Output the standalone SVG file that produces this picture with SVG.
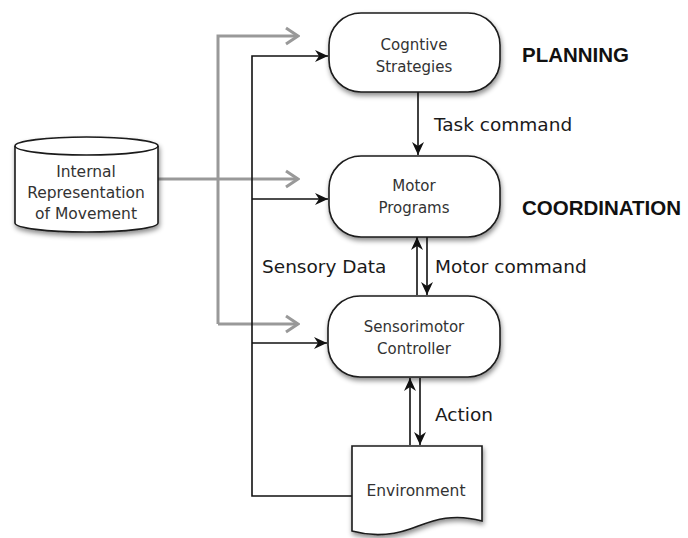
<svg xmlns="http://www.w3.org/2000/svg" width="688" height="538" viewBox="0 0 688 538">
<style>
.node{fill:#fff;stroke:#1a1a1a;stroke-width:1.6;filter:url(#sh)}
.t{font-family:"DejaVu Sans",sans-serif;font-size:15px;fill:#333;text-anchor:middle}
.lbl{font-family:"DejaVu Sans",sans-serif;font-size:18.5px;fill:#1a1a1a}
.hd{font-family:"Liberation Sans",Arial,sans-serif;font-size:20.5px;font-weight:bold;fill:#111}
.bk{fill:none;stroke:#111;stroke-width:1.6}
.gr{fill:none;stroke:#999;stroke-width:3}
</style>
<defs>
<filter id="sh" x="-20%" y="-20%" width="140%" height="150%">
<feDropShadow dx="1" dy="3" stdDeviation="2.5" flood-color="#000" flood-opacity="0.45"/>
</filter>
<marker id="ab" markerWidth="14" markerHeight="12" refX="13" refY="6" orient="auto" markerUnits="userSpaceOnUse">
<path d="M0,0 L13,6 L0,12 L4,6 Z" fill="#111"/>
</marker>
<marker id="ag" markerWidth="16" markerHeight="20" refX="14" refY="10" orient="auto" markerUnits="userSpaceOnUse">
<path d="M2,2 L14,10 L2,18" fill="none" stroke="#999" stroke-width="3"/>
</marker>
</defs>
<rect width="688" height="538" fill="#fff"/>
<g id="connectors">
<path class="gr" d="M218,324 V36 H298" marker-end="url(#ag)"/>
<path class="gr" d="M158,179 H298" marker-end="url(#ag)"/>
<path class="gr" d="M218,324 H298" marker-end="url(#ag)"/>
<path class="bk" d="M352,496 H252 V56 H328" marker-end="url(#ab)"/>
<path class="bk" d="M252,199 H328" marker-end="url(#ab)"/>
<path class="bk" d="M252,343 H327" marker-end="url(#ab)"/>
<path class="bk" d="M418,92 V155" marker-end="url(#ab)"/>
<path class="bk" d="M417,295 V237" marker-end="url(#ab)"/>
<path class="bk" d="M427,237 V295" marker-end="url(#ab)"/>
<path class="bk" d="M410,445 V378" marker-end="url(#ab)"/>
<path class="bk" d="M420,378 V445" marker-end="url(#ab)"/>
</g>
<g id="cognitive">
<rect class="node" x="329" y="13" width="171" height="79" rx="32"/>
<text class="t" x="414" y="50">Cogntive</text>
<text class="t" x="414" y="72">Strategies</text>
</g>
<g id="motor">
<rect class="node" x="329" y="156" width="171" height="81" rx="32"/>
<text class="t" x="414" y="191">Motor</text>
<text class="t" x="414" y="213">Programs</text>
</g>
<g id="sensorimotor">
<rect class="node" x="328" y="296" width="172" height="81" rx="32"/>
<text class="t" x="414" y="332">Sensorimotor</text>
<text class="t" x="414" y="354">Controller</text>
</g>
<g id="internal">
<path class="node" d="M15,146 A71.5,9 0 0 1 158,146 V223 A71.5,9 0 0 1 15,223 Z"/>
<path d="M15,146 A71.5,9 0 0 0 158,146" fill="none" stroke="#1a1a1a" stroke-width="1.6"/>
<text class="t" x="86" y="177" style="font-size:15.5px">Internal</text>
<text class="t" x="86" y="198" style="font-size:15.5px">Representation</text>
<text class="t" x="86" y="219" style="font-size:15.5px">of Movement</text>
</g>
<g id="environment">
<path class="node" d="M352,446 H482 V521 C450,512 430,522 410,529 C390,536 370,536 352,531 Z"/>
<text class="t" x="416" y="496" style="font-size:15.5px">Environment</text>
</g>
<g id="labels">
<text class="lbl" x="434" y="131">Task command</text>
<text class="lbl" x="262" y="273">Sensory Data</text>
<text class="lbl" x="435" y="273">Motor command</text>
<text class="lbl" x="435" y="421">Action</text>
<text class="hd" x="522" y="62">PLANNING</text>
<text class="hd" x="522" y="215">COORDINATION</text>
</g>
</svg>
